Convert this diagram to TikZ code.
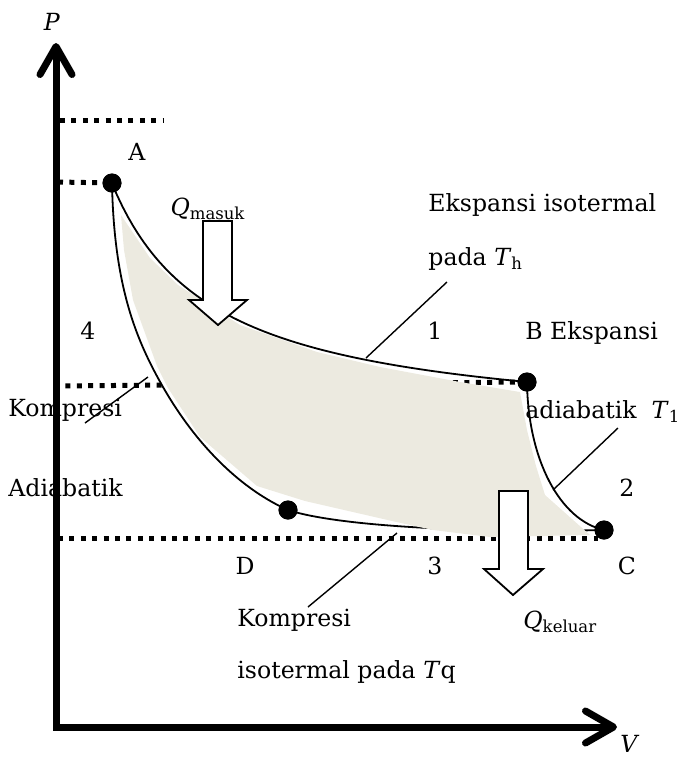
\documentclass[tikz,border=0pt]{standalone}
\usepackage{fontspec}
\setmainfont{DejaVu Serif}
\usetikzlibrary{arrows.meta}
\definecolor{cyclefill}{RGB}{236,234,224}
\tikzset{
  axis/.style={line width=3.5pt,
    {Straight Barb[length=14pt,width=16pt,round]}-{Straight Barb[length=14pt,width=16pt,round]}},
  levelline/.style={line width=2.5pt,dash pattern=on 2.5pt off 3.2pt},
  process/.style={line width=0.9pt},
  leader/.style={line width=0.7pt},
  state/.style={circle,fill,inner sep=0pt,minimum size=9.5pt},
  heat/.style={draw,fill=white,line width=0.9pt,line join=miter},
  lbl/.style={inner sep=0pt,font=\fontsize{11.8}{14}\selectfont},
}
\begin{document}
\begin{tikzpicture}[x=0.5pt,y=-0.5pt]
 \useasboundingbox (0,0) rectangle (683,757);
 % axes corner and tips
 \coordinate (O) at (56,727);
 \coordinate (Ptip) at (56,43);
 \coordinate (Vtip) at (617,727);
 % states of the cycle
 \node[state] (A) at (112,183) {};
 \node[state] (B) at (527,382) {};
 \node[state] (C) at (604,530) {};
 \node[state] (D) at (288,510) {};
 % level lines
 \draw[levelline] (60,120) -- (163,120);
 \draw[levelline] (58,182) -- (A);
 \draw[levelline] (54,386) -- (B);
 \draw[levelline] (58,538) -- (598,538);
 % isotherm D -> C (partly hidden by the shaded area)
 \draw[process] (D.center) .. controls (340,527) and (480,533) .. (C.center);
 % shaded work area
 \fill[cyclefill] (121,215) -- (150,258) -- (178,285) -- (240,325)
   -- (317,352) -- (380,367) -- (460,382) -- (520,392) -- (527,430)
   -- (536,466) -- (545,495) -- (590,535) -- (490,537) -- (433,530)
   -- (392,521) -- (305,501) -- (257,486) -- (200,437) -- (168,388)
   -- (157,366) -- (133,300) -- (124,250) -- cycle;
 % isotherm A -> B
 \draw[process,domain=112:527,samples=80,variable=\x]
   plot ({\x},{430.7-252/((\x-10)*0.01)});
 % adiabats A -> D and B -> C
 \draw[process] (A.center) .. controls (114,290) and (138,343) .. (163,387)
   .. controls (198,448) and (243,490) .. (D.center);
 \draw[process] (B.center) .. controls (528,460) and (560,520) .. (C.center);
 \node[state] at (A) {};
 \node[state] at (B) {};
 \node[state] at (C) {};
 \node[state] at (D) {};
 % heat in and out
 \draw[heat] (203,221) -- (232,221) -- (232,300) -- (247,300) -- (218,325)
   -- (189,300) -- (203,300) -- cycle;
 \draw[heat] (499,491) -- (528,491) -- (528,569) -- (543,569) -- (513,595)
   -- (484,569) -- (499,569) -- cycle;
 % leaders
 \coordinate (lead1a) at (447,282);
 \coordinate (lead1b) at (366,358);
 \coordinate (lead2a) at (148,377);
 \coordinate (lead2b) at (85,423);
 \coordinate (lead3a) at (397,533);
 \coordinate (lead3b) at (308,607);
 \coordinate (lead4a) at (618,428);
 \coordinate (lead4b) at (553,490);
 \draw[leader] (lead1a) -- (lead1b);
 \draw[leader] (lead2a) -- (lead2b);
 \draw[leader] (lead3a) -- (lead3b);
 \draw[leader] (lead4a) -- (lead4b);
 % labels
 \node[lbl,anchor=base] (lblP) at (52,30) {\textit{P}};
 \node[lbl,anchor=base] (lblV) at (630,752) {\textit{V}};
 \node[lbl,anchor=base] (lblA) at (137,160) {A};
 \node[lbl,anchor=base] (lblQin) at (208,215) {\textit{Q}\textsubscript{masuk}};
 \node[lbl,anchor=base west] (lblEksA) at (428,211) {Ekspansi isotermal};
 \node[lbl,anchor=base west] (lblEksB) at (428,265) {pada \textit{T}\textsubscript{h}};
 \node[lbl,anchor=base] (lblone) at (435,339) {1};
 \node[lbl,anchor=base west] (lblB) at (525,339) {B Ekspansi};
 \node[lbl,anchor=base] (lblfour) at (88,339) {4};
 \node[lbl,anchor=base west] (lblKompA) at (8,416) {Kompresi};
 \node[lbl,anchor=base west] (lbladia) at (525,418) {adiabatik\ \ \textit{T}\textsubscript{1}};
 \node[lbl,anchor=base west] (lblAdia) at (8,496) {Adiabatik};
 \node[lbl,anchor=base] (lbltwo) at (627,496) {2};
 \node[lbl,anchor=base] (lblD) at (245,574) {D};
 \node[lbl,anchor=base] (lblthree) at (435,574) {3};
 \node[lbl,anchor=base] (lblC) at (627,574) {C};
 \node[lbl,anchor=base west] (lblKompB) at (237,626) {Kompresi};
 \node[lbl,anchor=base west] (lblKompC) at (237,678) {isotermal pada \textit{T}q};
 \node[lbl,anchor=base west] (lblQout) at (523,628) {\textit{Q}\textsubscript{keluar}};
 % axes
 \draw[axis] (Ptip) -- (O) -- (Vtip);
\end{tikzpicture}
\end{document}
